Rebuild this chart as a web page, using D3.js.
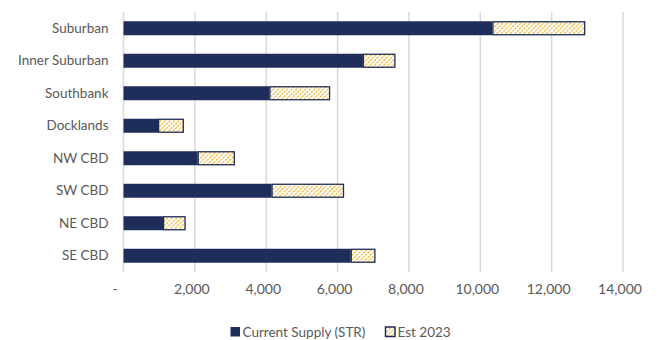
<!DOCTYPE html>
<html>
<head>
<meta charset="utf-8">
<script src="https://cdn.jsdelivr.net/npm/d3@7"></script>
<style>
  html, body { margin: 0; padding: 0; background: #fff; }
  svg { display: block; font-family: Lato, "Open Sans", sans-serif; }
</style>
</head>
<body>
<svg id="chart" width="665" height="340"></svg>
<script>
// Precinct names, top to bottom
const categories = ["Suburban", "Inner Suburban", "Southbank", "Docklands", "NW CBD", "SW CBD", "NE CBD", "SE CBD"];
// Current short-term rental supply
const currentSupply = [10340, 6710, 4090, 970, 2080, 4150, 1110, 6370];
// Additional supply estimated for 2023 (stacked on top of current)
const est2023 = [2600, 910, 1700, 720, 1040, 2030, 630, 690];
// Axis ticks
const tickValues = [0, 2000, 4000, 6000, 8000, 10000, 12000, 14000];
const seriesNames = ["Current Supply (STR)", "Est 2023"];

const navy = "#1F2D5A";
const gold = "#F5B01E";
const textColor = "#595959";
const gridColor = "#D9D9D9";

const svg = d3.select("#chart");
const plot = { left: 123.5, right: 623, top: 12, bottom: 272 };

const x = d3.scaleLinear().domain([0, 14000]).range([plot.left, plot.right]);
const y = d3.scaleBand().domain(categories)
  .range([plot.top, plot.bottom])
  .paddingInner(0.57).paddingOuter(0.285);

// Diagonal dashed hatch for the estimate segments
const hs = 3.2;
const defs = svg.append("defs");
const pat = defs.append("pattern")
  .attr("id", "hatch")
  .attr("patternUnits", "userSpaceOnUse")
  .attr("width", hs).attr("height", hs)
  .attr("patternTransform", "rotate(45)");
pat.append("rect").attr("width", hs).attr("height", hs).attr("fill", "#fff");
pat.append("line")
  .attr("x1", 0.6).attr("y1", 0).attr("x2", 0.6).attr("y2", hs)
  .attr("stroke", gold).attr("stroke-width", 1.1)
  .attr("stroke-dasharray", "2.4,0.8");

// Vertical gridlines
svg.append("g")
  .selectAll("line")
  .data(tickValues)
  .join("line")
  .attr("x1", d => x(d)).attr("x2", d => x(d))
  .attr("y1", plot.top).attr("y2", plot.bottom)
  .attr("stroke", gridColor).attr("stroke-width", 1.5);

// Stack the two series
const rows = categories.map((c, i) => ({ cat: c, current: currentSupply[i], est: est2023[i] }));
const stacked = d3.stack().keys(["current", "est"])(rows);

svg.append("g").selectAll("rect")
  .data(stacked[0])
  .join("rect")
  .attr("x", d => x(d[0]))
  .attr("y", d => y(d.data.cat))
  .attr("width", d => x(d[1]) - x(d[0]))
  .attr("height", y.bandwidth())
  .attr("fill", navy);

svg.append("g").selectAll("rect")
  .data(stacked[1])
  .join("rect")
  .attr("x", d => x(d[0]) + 0.5)
  .attr("y", d => y(d.data.cat) + 0.5)
  .attr("width", d => x(d[1]) - x(d[0]) - 1)
  .attr("height", y.bandwidth() - 1)
  .attr("fill", "url(#hatch)")
  .attr("stroke", navy).attr("stroke-width", 1.3);

// Category labels
const yAxis = svg.append("g")
  .attr("transform", `translate(${plot.left - 15},0)`)
  .call(d3.axisLeft(y).tickSize(0).tickPadding(0));
yAxis.select(".domain").remove();
yAxis.selectAll("text")
  .attr("fill", textColor)
  .style("font-size", "13.5px")
  .style("font-family", "Lato, sans-serif");

// Value axis labels
const xAxis = svg.append("g")
  .attr("transform", `translate(0,${plot.bottom})`)
  .call(d3.axisBottom(x).tickValues(tickValues)
    .tickFormat(d => d === 0 ? "-" : d3.format(",")(d))
    .tickSize(0).tickPadding(12));
xAxis.select(".domain").remove();
xAxis.selectAll("text")
  .attr("fill", textColor)
  .style("font-size", "14px")
  .style("font-family", "Lato, sans-serif")
  .attr("dx", d => d === 0 ? -9 : -3.5);

// Legend
const legend = svg.append("g").attr("transform", "translate(0,332)");
const items = [
  { name: seriesNames[0], x: 230.5, fill: navy, stroke: "none" },
  { name: seriesNames[1], x: 385.5, fill: "url(#hatch)", stroke: navy }
];
const li = legend.selectAll("g").data(items).join("g")
  .attr("transform", d => `translate(${d.x},0)`);
li.append("rect")
  .attr("x", 0).attr("y", -5).attr("width", 9.5).attr("height", 9.5)
  .attr("fill", d => d.fill).attr("stroke", d => d.stroke).attr("stroke-width", 1.5);
li.append("text")
  .attr("x", 12).attr("y", 0).attr("dy", "0.35em")
  .attr("fill", textColor)
  .style("font-size", "13.5px")
  .text(d => d.name);
</script>
</body>
</html>
